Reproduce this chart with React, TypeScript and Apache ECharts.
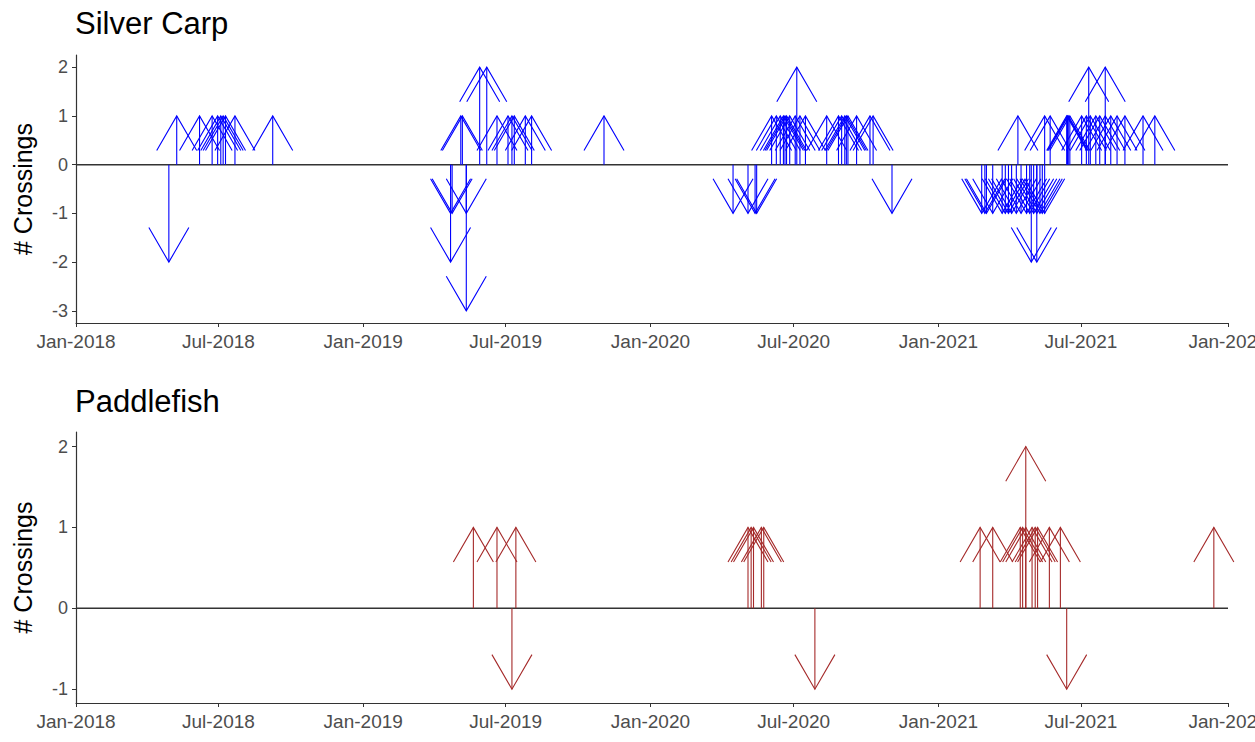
import React, { useEffect, useRef } from "react";
import * as echarts from "echarts";

// ---- Data ----
const silverDates = [
  "2018-04-29", "2018-05-09", "2018-06-07", "2018-06-23", "2018-06-30", "2018-07-04", "2018-07-07", "2018-07-10", "2018-07-22", "2018-09-08",
  "2019-04-22", "2019-04-22", "2019-04-24", "2019-05-05", "2019-05-07", "2019-05-12", "2019-05-12", "2019-05-29", "2019-06-07", "2019-06-20",
  "2019-07-04", "2019-07-09", "2019-07-12", "2019-07-26", "2019-08-03", "2019-11-03",
  "2020-04-15", "2020-05-04", "2020-05-13", "2020-05-15", "2020-06-03", "2020-06-09", "2020-06-14", "2020-06-18", "2020-06-20", "2020-06-22",
  "2020-06-26", "2020-07-03", "2020-07-05", "2020-07-09", "2020-07-16", "2020-08-12", "2020-08-27", "2020-08-31", "2020-09-04", "2020-09-06",
  "2020-09-08", "2020-09-19", "2020-10-06", "2020-10-10", "2020-11-03",
  "2021-02-25", "2021-03-01", "2021-03-03", "2021-03-11", "2021-03-23", "2021-03-27", "2021-03-31", "2021-04-04", "2021-04-10", "2021-04-12",
  "2021-04-16", "2021-04-23", "2021-04-27", "2021-04-29", "2021-05-02", "2021-05-06", "2021-05-06", "2021-05-10", "2021-05-13", "2021-05-16",
  "2021-05-16", "2021-05-23", "2021-06-13", "2021-06-14", "2021-06-15", "2021-06-17", "2021-07-02", "2021-07-08", "2021-07-11", "2021-07-13",
  "2021-07-20", "2021-07-25", "2021-08-01", "2021-08-01", "2021-08-08", "2021-08-16", "2021-08-26", "2021-09-18", "2021-10-03",
];
const silverValues = [
  -2, 1, 1, 1, 1, 1, 1, 1, 1, 1,
  -1, -2, -1, 1, 1, -1, -3, 2, 2, 1,
  1, 1, 1, 1, 1, 1,
  -1, -1, -1, -1, 1, 1, 1, 1, 1, 1,
  1, 1, 2, 1, 1, 1, 1, 1, 1, 1,
  1, 1, 1, 1, -1,
  -1, -1, -1, -1, -1, -1, -1, -1, -1, 1,
  -1, -1, -1, -2, -1, -1, -2, -1, -1, -1,
  1, 1, 1, 1, 1, 1, 1, 1, 2, 1,
  1, 1, 2, 1, 1, 1, 1, 1, 1,
];

const paddleDates = [
  "2019-05-21", "2019-06-20", "2019-07-09", "2019-07-14",
  "2020-05-04", "2020-05-08", "2020-05-11", "2020-05-21", "2020-05-24", "2020-07-28",
  "2021-02-23", "2021-03-11", "2021-04-15", "2021-04-18", "2021-04-22", "2021-04-22", "2021-04-30", "2021-05-04", "2021-05-07",
  "2021-05-22", "2021-06-05", "2021-06-13", "2021-12-17",
];
const paddleValues = [
  1, 1, -1, 1,
  1, 1, 1, 1, 1, -1,
  1, 1, 1, 1, 1, 2, 1, 1, 1,
  1, 1, -1, 1,
];

const panelTitles = ["Silver Carp", "Paddlefish"];
const silverTicks = [-3, -2, -1, 0, 1, 2];
const paddleTicks = [-1, 0, 1, 2];
const monthNames = ["Jan", "Feb", "Mar", "Apr", "May", "Jun", "Jul", "Aug", "Sep", "Oct", "Nov", "Dec"];
const xMin = "2018-01-01";
const xMax = "2022-01-04";

const FONT = "'Liberation Sans', Arial, sans-serif";
const AXIS_COLOR = "#333333";
const LABEL_COLOR = "#4d4d4d";

function arrowSeries(dates: string[], values: number[], color: string, idx: number) {
  return {
    type: "custom",
    xAxisIndex: idx,
    yAxisIndex: idx,
    clip: false,
    silent: true,
    encode: { x: 0, y: 1 },
    data: dates.map((d, i) => [d, values[i]]),
    renderItem: (params: any, api: any) => {
      const x = api.value(0);
      const v = api.value(1);
      const base = api.coord([x, 0]);
      const tip = api.coord([x, v]);
      const s = v > 0 ? 1 : -1;
      const dx = 20;
      const dy = 34.6 * s;
      return {
        type: "group",
        children: [
          {
            type: "line",
            shape: { x1: base[0], y1: base[1], x2: tip[0], y2: tip[1] },
            style: { stroke: color, lineWidth: 1.1 },
          },
          {
            type: "polyline",
            shape: { points: [[tip[0] - dx, tip[1] + dy], [tip[0], tip[1]], [tip[0] + dx, tip[1] + dy]] },
            style: { stroke: color, fill: null, lineWidth: 1.1 },
          },
        ],
      };
    },
  };
}

function zeroSeries(idx: number) {
  return {
    type: "line",
    xAxisIndex: idx,
    yAxisIndex: idx,
    silent: true,
    symbol: "none",
    z: 1,
    lineStyle: { color: AXIS_COLOR, width: 1.5 },
    data: [[xMin, 0], [xMax, 0]],
  };
}

function xAxisCfg(idx: number) {
  return {
    type: "time",
    gridIndex: idx,
    min: xMin,
    max: xMax,
    minInterval: 180 * 24 * 3600 * 1000,
    maxInterval: 185 * 24 * 3600 * 1000,
    axisLine: { onZero: false, lineStyle: { color: AXIS_COLOR, width: 1.2 } },
    axisTick: { show: true, length: 4, lineStyle: { color: AXIS_COLOR } },
    splitLine: { show: false },
    axisLabel: {
      color: LABEL_COLOR,
      fontSize: 19,
      fontFamily: FONT,
      margin: 9,
      hideOverlap: false,
      showMinLabel: true,
      showMaxLabel: true,
      formatter: (val: number) => {
        const d = new Date(val);
        return monthNames[d.getMonth()] + "-" + d.getFullYear();
      },
    },
  };
}

function yAxisCfg(idx: number, min: number, max: number, ticks: number[]) {
  return {
    type: "value",
    gridIndex: idx,
    min,
    max,
    name: "# Crossings",
    nameLocation: "middle",
    nameRotate: 90,
    nameGap: 41,
    nameTextStyle: { color: "#000", fontSize: 25, fontFamily: FONT },
    axisLine: { show: true, lineStyle: { color: AXIS_COLOR, width: 1.2 } },
    axisTick: { show: true, length: 4, lineStyle: { color: AXIS_COLOR }, customValues: ticks },
    splitLine: { show: false },
    axisLabel: {
      color: LABEL_COLOR,
      fontSize: 18,
      fontFamily: FONT,
      margin: 8,
      customValues: ticks,
      formatter: (v: number) => String(Math.round(v)),
    },
  };
}

export default function App() {
  const ref = useRef<HTMLDivElement>(null);
  useEffect(() => {
    if (!ref.current) return;
    const chart = echarts.init(ref.current, null, { renderer: "svg" });
    const titleStyle = { fontSize: 31, fontWeight: "normal", color: "#000", fontFamily: FONT };
    chart.setOption({
      animation: false,
      backgroundColor: "#ffffff",
      textStyle: { fontFamily: FONT },
      title: [
        { text: panelTitles[0], left: 75, top: 8, padding: 0, textStyle: titleStyle },
        { text: panelTitles[1], left: 75, top: 386, padding: 0, textStyle: titleStyle },
      ],
      grid: [
        { left: 76, right: 27, top: 55, height: 268, outerBoundsMode: "none", containLabel: false },
        { left: 76, right: 27, top: 432, height: 271, outerBoundsMode: "none", containLabel: false },
      ],
      xAxis: [xAxisCfg(0), xAxisCfg(1)],
      yAxis: [yAxisCfg(0, -3.25, 2.25, silverTicks), yAxisCfg(1, -1.17, 2.18, paddleTicks)],
      series: [
        zeroSeries(0),
        arrowSeries(silverDates, silverValues, "#0000ff", 0),
        zeroSeries(1),
        arrowSeries(paddleDates, paddleValues, "#a52a2a", 1),
      ],
    });
    return () => chart.dispose();
  }, []);
  return (
    <div
      ref={ref}
      style={{ position: "absolute", left: 0, top: 0, width: 1255, height: 742, background: "#fff" }}
    />
  );
}
